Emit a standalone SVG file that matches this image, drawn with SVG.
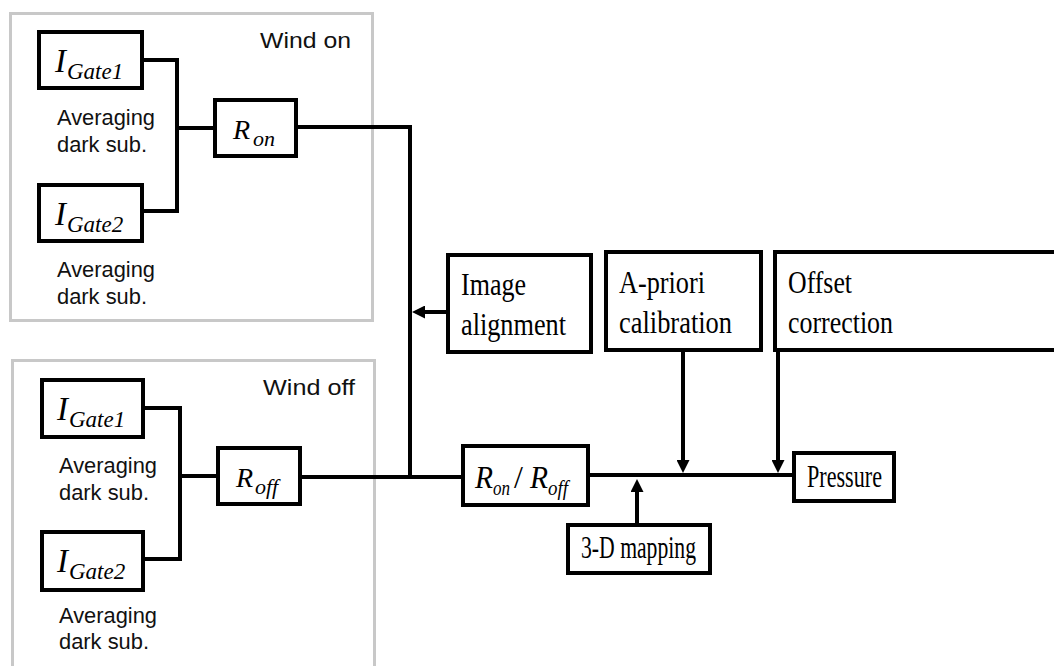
<svg xmlns="http://www.w3.org/2000/svg" width="1054" height="666" viewBox="0 0 1054 666">
<style>
.grp{fill:none;stroke:#c8c8c8;stroke-width:3}
.box{fill:#fff;stroke:#000;stroke-width:4}
.ln{fill:none;stroke:#000;stroke-width:4}
.sans{font-family:"Liberation Sans",Arial,sans-serif;font-size:22px;fill:#111}
.ser{font-family:"Liberation Serif","Times New Roman",serif;font-size:32px;fill:#000}
.it{font-family:"Liberation Serif","Times New Roman",serif;font-style:italic;fill:#000}
</style>
<defs>
<marker id="ah" markerUnits="userSpaceOnUse" markerWidth="13" markerHeight="13" refX="3" refY="6.5" orient="auto">
<path d="M0,0 L13,6.5 L0,13 z" fill="#000"/>
</marker>
</defs>
<rect fill="#fff" width="1054" height="666"/>
<g id="wind-on-group">
<rect class="grp" x="10.5" y="13.5" width="362" height="307"/>
<text class="sans" x="260" y="48" font-size="23" textLength="91" lengthAdjust="spacingAndGlyphs">Wind on</text>
</g>
<g id="wind-off-group">
<rect class="grp" x="12.5" y="360.5" width="362" height="340"/>
<text class="sans" x="263" y="395" font-size="23" textLength="92" lengthAdjust="spacingAndGlyphs">Wind off</text>
</g>
<g id="connectors">
<path class="ln" d="M142,60 H177 V211 H142 M177,128 H215"/>
<path class="ln" d="M296,127 H410 V477"/>
<path class="ln" d="M143,408 H180 V559 H143 M180,476 H218"/>
<path class="ln" d="M300,477 H463"/>
<path class="ln" d="M588,475 H794"/>
<path class="ln" d="M448,312 H422" marker-end="url(#ah)"/>
<path class="ln" d="M683,350 V463" marker-end="url(#ah)"/>
<path class="ln" d="M778,350 V463" marker-end="url(#ah)"/>
<path class="ln" d="M637,525 V489" marker-end="url(#ah)"/>
</g>
<g id="on-gate1">
<rect class="box" x="39" y="32" width="103" height="56"/>
<text class="it" x="55" y="72" font-size="33">I</text><text class="it" x="67" y="79" font-size="23">Gate1</text>
<text class="sans" x="57" y="125" textLength="98" lengthAdjust="spacingAndGlyphs">Averaging</text>
<text class="sans" x="57" y="152" textLength="90" lengthAdjust="spacingAndGlyphs">dark sub.</text>
</g>
<g id="on-gate2">
<rect class="box" x="39" y="185" width="103" height="56"/>
<text class="it" x="55" y="225" font-size="33">I</text><text class="it" x="67" y="232" font-size="23">Gate2</text>
<text class="sans" x="57" y="277" textLength="98" lengthAdjust="spacingAndGlyphs">Averaging</text>
<text class="sans" x="57" y="304" textLength="90" lengthAdjust="spacingAndGlyphs">dark sub.</text>
</g>
<g id="r-on">
<rect class="box" x="215" y="100" width="81" height="56"/>
<text class="it" x="233" y="139" font-size="28">R</text><text class="it" x="253" y="146" font-size="22">on</text>
</g>
<g id="off-gate1">
<rect class="box" x="42" y="380" width="101" height="57"/>
<text class="it" x="57" y="420" font-size="33">I</text><text class="it" x="69" y="427" font-size="23">Gate1</text>
<text class="sans" x="59" y="473" textLength="98" lengthAdjust="spacingAndGlyphs">Averaging</text>
<text class="sans" x="59" y="500" textLength="90" lengthAdjust="spacingAndGlyphs">dark sub.</text>
</g>
<g id="off-gate2">
<rect class="box" x="42" y="532" width="101" height="58"/>
<text class="it" x="57" y="572" font-size="33">I</text><text class="it" x="69" y="579" font-size="23">Gate2</text>
<text class="sans" x="59" y="623" textLength="98" lengthAdjust="spacingAndGlyphs">Averaging</text>
<text class="sans" x="59" y="649" textLength="90" lengthAdjust="spacingAndGlyphs">dark sub.</text>
</g>
<g id="r-off">
<rect class="box" x="218" y="448" width="82" height="56"/>
<text class="it" x="236" y="487" font-size="28">R</text><text class="it" x="255" y="494" font-size="22">off</text>
</g>
<g id="image-alignment">
<rect class="box" x="448" y="255" width="143" height="97"/>
<text class="ser" x="461" y="295" textLength="65" lengthAdjust="spacingAndGlyphs">Image</text>
<text class="ser" x="461" y="335" textLength="105" lengthAdjust="spacingAndGlyphs">alignment</text>
</g>
<g id="a-priori-calibration">
<rect class="box" x="606" y="252" width="155" height="98"/>
<text class="ser" x="619" y="293" textLength="86" lengthAdjust="spacingAndGlyphs">A-priori</text>
<text class="ser" x="619" y="333" textLength="113" lengthAdjust="spacingAndGlyphs">calibration</text>
</g>
<g id="offset-correction">
<rect class="box" x="775" y="252" width="290" height="98"/>
<text class="ser" x="788" y="293" textLength="64" lengthAdjust="spacingAndGlyphs">Offset</text>
<text class="ser" x="788" y="333" textLength="105" lengthAdjust="spacingAndGlyphs">correction</text>
</g>
<g id="ratio">
<rect class="box" x="463" y="446" width="125" height="59"/>
<text class="it" x="475" y="488" font-size="32" textLength="18" lengthAdjust="spacingAndGlyphs">R</text>
<text class="it" x="493" y="495" font-size="22" textLength="17" lengthAdjust="spacingAndGlyphs">on</text>
<text class="ser" x="514" y="488" font-size="28">/</text>
<text class="it" x="530" y="488" font-size="32" textLength="18" lengthAdjust="spacingAndGlyphs">R</text>
<text class="it" x="548" y="495" font-size="22" textLength="20" lengthAdjust="spacingAndGlyphs">off</text>
</g>
<g id="mapping-3d">
<rect class="box" x="568" y="525" width="142" height="48"/>
<text class="ser" x="581" y="558" font-size="26" textLength="115" lengthAdjust="spacingAndGlyphs">3-D mapping</text>
</g>
<g id="pressure">
<rect class="box" x="794" y="453" width="100" height="48"/>
<text class="ser" x="807" y="487" font-size="25" textLength="75" lengthAdjust="spacingAndGlyphs">Pressure</text>
</g>
</svg>
